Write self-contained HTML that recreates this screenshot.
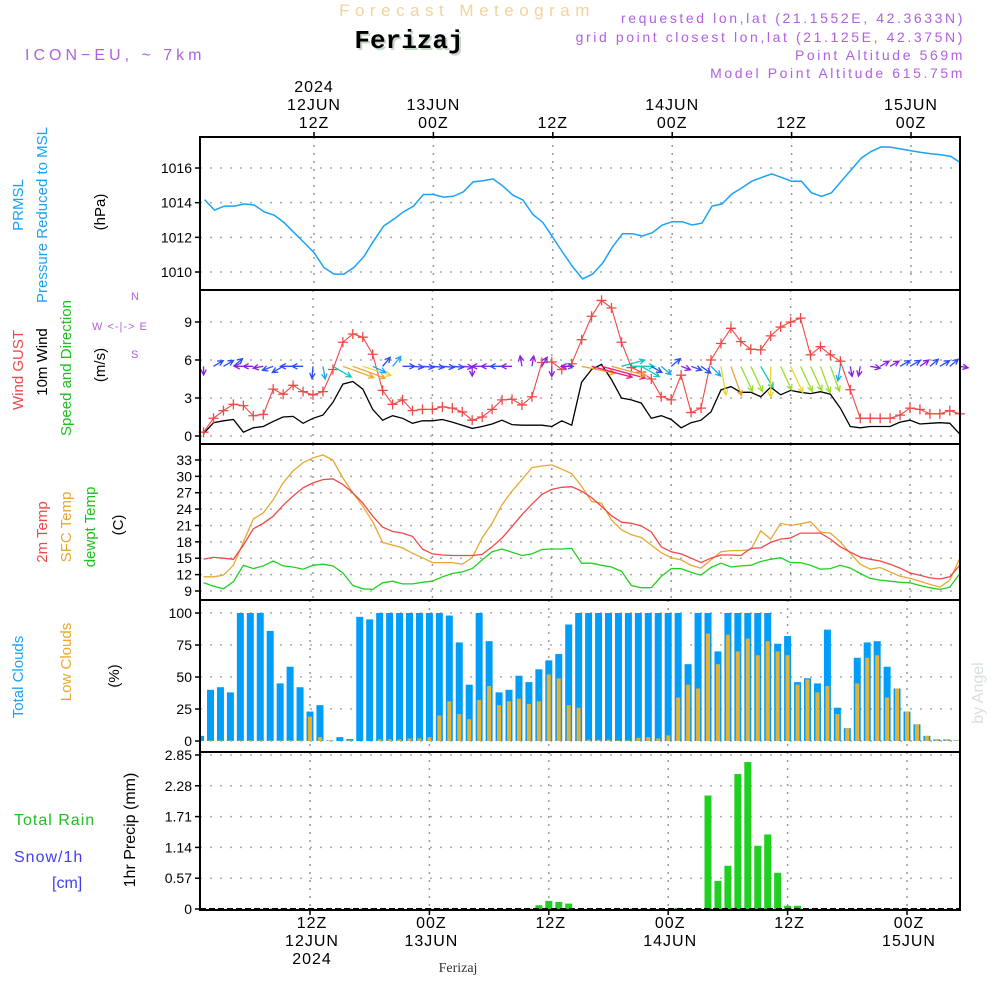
<!DOCTYPE html>
<html><head><meta charset="utf-8"><style>
html,body{margin:0;padding:0;background:#fff;}
svg{display:block;font-family:"Liberation Sans",sans-serif;}
</style></head><body>
<svg id="chart" width="1000" height="1000" viewBox="0 0 1000 1000">
<g>
<text x="467" y="16" text-anchor="middle" font-size="17" fill="#f3d39b" letter-spacing="5.5">Forecast Meteogram</text>
<text x="411" y="50" text-anchor="middle" font-size="26" font-weight="bold" font-family="Liberation Mono,monospace" fill="#c8d8c8">Ferizaj</text>
<text x="409" y="48" text-anchor="middle" font-size="26" font-weight="bold" font-family="Liberation Mono,monospace" fill="#000">Ferizaj</text>
<text x="25" y="60" font-size="16" fill="#b060e0" letter-spacing="4">ICON−EU, ~ 7km</text>
<g font-size="14" fill="#b060e0" text-anchor="end" letter-spacing="2.6">
<text x="965" y="23">requested lon,lat (21.1552E, 42.3633N)</text>
<text x="965" y="42">grid point closest lon,lat (21.125E, 42.375N)</text>
<text x="965" y="60">Point Altitude 569m</text>
<text x="965" y="78">Model Point Altitude 615.75m</text>
</g>
</g>
<g id="labels" font-size="15"></g>
<g id="plot"></g>
</svg>
<script>
// ---- data (hours from 00Z 12JUN, h = 1..77) ----
const pressure=[1014.18,1013.57,1013.8,1013.8,1013.93,1013.86,1013.46,1013.28,1012.85,1012.27,1011.7,1011.12,1010.26,1009.88,1009.88,1010.26,1010.88,1011.8,1012.65,1013.04,1013.48,1013.8,1014.47,1014.47,1014.32,1014.37,1014.62,1015.2,1015.27,1015.37,1014.95,1014.43,1014.15,1013.32,1012.85,1012.0,1011.12,1010.3,1009.6,1009.88,1010.5,1011.45,1012.21,1012.21,1012.08,1012.27,1012.71,1012.9,1012.9,1012.71,1012.82,1013.8,1013.93,1014.5,1014.85,1015.24,1015.46,1015.66,1015.46,1015.24,1015.24,1014.57,1014.37,1014.57,1015.24,1015.9,1016.57,1016.96,1017.22,1017.2,1017.1,1017.0,1016.9,1016.82,1016.76,1016.67,1016.29];
const gust=[0.3,1.4,2.0,2.5,2.4,1.6,1.7,3.7,3.3,4.0,3.5,3.25,3.5,5.25,7.4,8.05,7.8,6.45,3.6,2.5,2.85,2.0,2.1,2.1,2.3,2.2,1.9,1.25,1.5,2.1,2.85,2.9,2.45,3.1,5.8,5.85,5.25,5.7,7.6,9.45,10.7,10.1,7.4,5.4,5.05,4.5,3.1,2.85,4.8,1.85,2.2,6.0,7.3,8.5,7.45,6.85,6.8,7.9,8.6,9.0,9.3,6.4,7.05,6.4,5.9,3.65,1.4,1.4,1.4,1.4,1.65,2.2,2.1,1.75,1.75,2.0,1.75];
const wind=[0.2,1.05,1.2,1.3,0.3,0.65,0.75,1.15,1.5,1.55,1.0,1.4,1.65,2.65,4.1,4.3,3.7,2.1,1.25,1.6,1.4,1.0,1.2,1.2,1.3,1.1,0.85,0.6,0.75,0.95,1.25,0.9,0.85,0.85,0.85,0.75,1.2,0.85,4.25,5.25,5.65,4.45,3.0,2.85,2.6,1.4,1.6,1.3,0.65,1.05,1.25,1.9,3.65,3.9,3.45,3.45,3.1,3.85,3.25,3.6,3.45,3.35,3.5,3.3,2.2,0.75,0.65,0.75,0.75,0.75,1.1,1.25,0.95,1.0,1.05,1.0,0.15];
// screen angle the arrow points to (deg, 0 = east, 90 = down)
const windDir=[90,-30,-30,-40,180,180,170,160,150,180,180,95,80,30,20,20,18,25,-50,-50,0,5,5,5,5,5,5,90,180,180,180,180,-100,-80,-60,90,0,180,12,15,15,15,-15,0,30,30,40,-40,20,20,35,45,80,70,65,65,60,90,65,65,65,65,70,70,100,80,100,10,-30,-30,-30,-30,-35,-40,-30,-40,10];
const t2m=[14.85,15.15,15,14.8,17.4,20.4,21.4,22.7,24.7,26.4,27.9,28.8,29.4,29.55,28.5,27,25.1,22.7,20.7,19.9,19.6,19,16.7,15.8,15.6,15.5,15.5,15.5,15.7,17.1,18.7,20.8,23,24.9,26.7,27.6,28,28.1,27.3,26.1,24.5,22.8,21.6,21.4,20.9,19.8,17.1,16.2,15.8,15,14.2,15,15.6,15.6,15.5,16.8,16.9,17.9,18.5,18.7,19.6,19.6,19.6,18.5,17.1,16.1,15.2,14.8,14.5,13.9,13.2,12.3,11.9,11.4,11.2,11.6,13.7];
const tsfc=[11.6,11.6,11.9,13.7,18,22.2,23.3,25.7,28.8,31,32.5,33.4,33.9,33,29.7,27,24.5,21.7,17.9,17.4,16.9,15.9,15.1,14.2,14.2,14.2,13.9,15.1,18.7,21.4,24.8,27.3,29.4,31.6,31.9,32.1,31.3,30.5,28.2,25.4,25.1,22,20.2,19.3,18.8,17.4,16,15.1,14.7,13.7,13.2,14.7,16.2,16.4,16.4,16.6,20,18.5,21.4,21,21.3,21.7,19.8,19.6,18,15.9,13.9,13,13.3,12.5,11.7,11.3,10.8,10.2,9.7,11,15];
const tdew=[10.5,9.9,9.4,10.7,13.7,13.1,13.6,14.5,13.6,13.4,13,13.7,13.9,13.6,12.3,10,9.4,9.3,10.5,10.8,10.3,10.3,10.6,10.8,11.6,12.2,12.5,13.1,14.7,16.2,16.7,16.1,15.5,15.8,16.6,16.7,16.7,16.8,14.1,14.1,13.7,13.4,12.6,10,9.6,9.6,11.7,13.1,13.1,12.4,11.9,13.3,14.1,13.4,13.6,13.7,14.4,14.8,15.1,14.2,14.2,13.7,13,13.1,13.7,13.2,12.2,11.3,11,10.8,10.6,10.5,10,9.6,9.3,9.7,12.2];
const cloudTotal=[4,40,42,38,100,100,100,86,45,58,42,23,28,0.5,3,1.5,97,95,100,100,100,100,100,100,100,98,77,44,100,78,38,40,51,46,56,63,68,91,100,100,100,100,100,100,100,100,100,100,100,60,100,100,70,100,100,100,100,100,76,82,46,49,45,87,26,10,65,77,78,58,41,23,13,4,1.3,1.3,0.5];
const cloudLow=[0.5,0.5,0.5,0.5,0.5,0.5,0.5,0.5,0.5,0.5,0.5,19,3,0.5,0,0.5,0,0,1.3,1.3,1.3,2,2,3,20,31,21,17,32,43,28,31,33,29,31,52,49,28,26,1,1,1,0.5,0.5,2.5,3,2,4.4,34,44,41,84,60,83,70,80,67,78,70,67,44,48,38,43,21,10,45,65,67,34,41,23,13,4,1.3,1.3,0.5];
const precip=[0,0,0,0,0,0,0,0,0,0,0,0,0,0,0,0,0,0,0,0,0,0,0,0,0,0,0,0,0,0,0,0,0,0,0.07,0.15,0.13,0.1,0,0,0,0,0,0,0,0,0,0,0.02,0,0,2.1,0.52,0.8,2.5,2.72,1.17,1.38,0.67,0.06,0.06,0,0,0,0,0,0,0,0,0,0,0,0,0,0,0,0];
const pTicks=[1010,1012,1014,1016];
const wTicks=[0,3,6,9];
const tTicks=[9,12,15,18,21,24,27,30,33];
const cTicks=[0,25,50,75,100];
const rTicks=[0,0.57,1.14,1.71,2.28,2.85];
const timeTicks=[12,24,36,48,60,72];
const topLabels=[["2024","12JUN","12Z"],["","13JUN","00Z"],["","","12Z"],["","14JUN","00Z"],["","","12Z"],["","15JUN","00Z"]];
const botLabels=[["12Z","12JUN","2024"],["00Z","13JUN",""],["12Z","",""],["00Z","14JUN",""],["12Z","",""],["00Z","15JUN",""]];

const NS="http://www.w3.org/2000/svg";
const plot=document.getElementById('plot');
function mk(tag,attrs,parent){const e=document.createElementNS(NS,tag);for(const k in attrs)e.setAttribute(k,attrs[k]);(parent||plot).appendChild(e);return e;}
const X0=200,X1=960,HPX=9.95;
const panels={
 p:{y0:137,y1:290,xo:314},
 w:{y0:290,y1:444,xo:313},
 t:{y0:444,y1:600,xo:313},
 c:{y0:600,y1:752,xo:310},
 r:{y0:752,y1:910,xo:310}
};
function xs(P,h){return P.xo+(h-12)*HPX;}
const pY=v=>272-(v-1010)*17.33;
const wY=v=>436-v*12.67;
const tY=v=>591-(v-9)*5.46;
const cY=v=>741-v*1.28;
const ysr=v=>909-v/2.85*154;

function axisPanel(P,ticks,yfun,name,fmt){
  const g=mk('g',{});
  
  
  ticks.forEach(t=>{const y=yfun(t);
    const l=mk('line',{x1:X0,x2:X1,y1:y,y2:y,stroke:'#aaa','stroke-width':1.5,'stroke-dasharray':'2 8'},g);
    
    
    mk('line',{x1:X0-5,x2:X0,y1:y,y2:y,stroke:'#000','stroke-width':1.5},g);
    const tx=mk('text',{x:X0-8,y:y+5,'text-anchor':'end','font-size':14,fill:'#000'},g);
    tx.textContent=fmt?fmt(t):t;
    
    
  });
  timeTicks.forEach(h=>{const x=xs(P,h);
    const l=mk('line',{x1:x,x2:x,y1:P.y0,y2:P.y1,stroke:'#999','stroke-width':1.5,'stroke-dasharray':'2 6'},g);
    
    
  });
  return g;
}
axisPanel(panels.p,pTicks,pY,'pressure');
axisPanel(panels.w,wTicks,wY,'wind');
axisPanel(panels.t,tTicks,tY,'temperature');
axisPanel(panels.c,cTicks,cY,'clouds');
axisPanel(panels.r,rTicks,ysr,'precip',t=>t===0?'0':t.toFixed(2));

function line(arr,P,yf,color,name,w){
  const pts=arr.map((v,i)=>xs(P,i+1).toFixed(1)+','+yf(v).toFixed(1)).join(' ');
  const e=mk('polyline',{points:pts,fill:'none',stroke:color,'stroke-width':w||1.3});
  
  
  return e;
}
line(pressure,panels.p,pY,'#1aa3f5','pressure-line',1.5);
line(wind,panels.w,wY,'#000','wind-speed-line',1.3);
line(gust,panels.w,wY,'#f04848','wind-gust-line',1.1);
gust.forEach((v,i)=>{const x=xs(panels.w,i+1),y=wY(v);
  const m=mk('path',{d:`M${x-5} ${y}H${x+5}M${x} ${y-5}V${y+5}`,stroke:'#f04848','stroke-width':1.3});
  
  
});
function wcol(s){return s<1?'#8a1fe0':s<1.6?'#2a4cf0':s<2.6?'#19a8f0':s<3.2?'#10c8c0':s<3.6?'#9ae02a':s<3.9?'#e8d830':s<4.5?'#e8a830':'#f0207a';}
windDir.forEach((d,i)=>{const s=wind[i];const x=xs(panels.w,i+1),y=wY(5.5);
  const L=s>2.5?s*8:Math.max(8,8+s*3);const a=d*Math.PI/180;
  const x2=x+L*Math.cos(a),y2=y+L*Math.sin(a);
  const h1=a+Math.PI*0.85,h2=a-Math.PI*0.85;
  const c=wcol(s);
  const ar=mk('path',{d:`M${x} ${y}L${x2} ${y2}M${x2+6*Math.cos(h1)} ${y2+6*Math.sin(h1)}L${x2} ${y2}L${x2+6*Math.cos(h2)} ${y2+6*Math.sin(h2)}`,stroke:c,'stroke-width':1.3,fill:'none'});
  
  
});
line(tsfc,panels.t,tY,'#e8a830','sfc-temp-line',1.3);
line(t2m,panels.t,tY,'#f04848','temp-2m-line',1.3);
line(tdew,panels.t,tY,'#20d020','dewpoint-line',1.3);
cloudTotal.forEach((v,i)=>{const x=xs(panels.c,i+1);const l=Math.max(X0,x-3.5),r=Math.min(X1,x+3.5);
  const b=mk('rect',{x:l,y:cY(v),width:Math.max(0,r-l),height:741-cY(v),fill:'#009ef8'});
  
  
});
cloudLow.forEach((v,i)=>{const x=xs(panels.c,i+1);const l=Math.max(X0,x-2),r=Math.min(X1,x+2);
  const b=mk('rect',{x:l,y:cY(v),width:Math.max(0,r-l),height:741-cY(v),fill:'#e8b030'});
  
  
});
precip.forEach((v,i)=>{if(v<=0)return;const x=xs(panels.r,i+1);
  const b=mk('rect',{x:x-3.5,y:ysr(v),width:7,height:909-ysr(v),fill:'#20d020'});
  
  
});
mk('line',{x1:X0,x2:X1,y1:909,y2:909,stroke:'#000','stroke-width':2,'stroke-dasharray':'6 3'});
[panels.p,panels.w,panels.t,panels.c,panels.r].forEach(P=>{
  const f=mk('rect',{x:X0,y:P.y0,width:X1-X0,height:P.y1-P.y0,fill:'none',stroke:'#000','stroke-width':2});
  
  
});
timeTicks.forEach((h,k)=>{const x=xs(panels.p,h);
  topLabels[k].forEach((s,j)=>{if(!s)return;const t=mk('text',{x:x,y:92+j*18,'text-anchor':'middle','font-size':16,fill:'#000','letter-spacing':1});t.textContent=s;
    
    });
  mk('line',{x1:x,x2:x,y1:132,y2:137,stroke:'#000','stroke-width':1.5});
  const xb=xs(panels.r,h)+2;
  botLabels[k].forEach((s,j)=>{if(!s)return;const t=mk('text',{x:xb,y:928+j*18,'text-anchor':'middle','font-size':16,fill:'#000','letter-spacing':1});t.textContent=s;
    
    });
  mk('line',{x1:xb-2,x2:xb-2,y1:910,y2:915,stroke:'#000','stroke-width':1.5});
});
const L=document.getElementById('labels');
function vlab(txt,x,y,col,name,size){const t=mk('text',{x:0,y:0,transform:`translate(${x},${y}) rotate(-90)`,'text-anchor':'middle',fill:col,'font-size':size||15},L);t.textContent=txt;
  
  }
function hlab(txt,x,y,col,name,size,extra){const t=mk('text',Object.assign({x:x,y:y,fill:col,'font-size':size||15},extra||{}),L);t.textContent=txt;
  
  }
vlab('PRMSL',23,205,'#1aa3f5','prmsl-label');
vlab('Pressure Reduced to MSL',47,215,'#1aa3f5','pressure-axis-title');
vlab('(hPa)',105,212,'#000','pressure-unit');
vlab('Wind GUST',23,370,'#f04848','gust-label');
vlab('10m Wind',47,362,'#000','wind-label');
vlab('Speed and Direction',71,368,'#20c020','wind-dir-label');
vlab('(m/s)',105,365,'#000','wind-unit');
hlab('N',131,300,'#b060e0','compass-n',11);
hlab('W <-|-> E',92,330,'#b060e0','compass-we',11,{'letter-spacing':1});
hlab('S',131,358,'#b060e0','compass-s',11);
vlab('2m Temp',47,532,'#f04848','temp-2m-label');
vlab('SFC Temp',71,527,'#e8a830','sfc-temp-label');
vlab('dewpt Temp',95,527,'#20c020','dewpoint-label');
vlab('(C)',123,525,'#000','temp-unit');
vlab('Total Clouds',23,677,'#1aa3f5','total-clouds-label');
vlab('Low Clouds',71,662,'#e8a830','low-clouds-label');
vlab('(%)',119,676,'#000','clouds-unit');
hlab('Total  Rain',14,825,'#20c020','rain-label',16,{'xml:space':'preserve','letter-spacing':1});
hlab('Snow/1h',14,862,'#4040f0','snow-label',16,{'letter-spacing':1});
hlab('[cm]',52,888,'#4040f0','snow-unit',16);
vlab('1hr Precip (mm)',135,830,'#000','precip-axis-title',16);
vlab('by Angel',983,693,'#d8e0d8','credit-label',16);
hlab('Ferizaj',458,972,'#333','footer-location',14,{'text-anchor':'middle','font-family':'Liberation Serif,serif'});
</script>
</body></html>
